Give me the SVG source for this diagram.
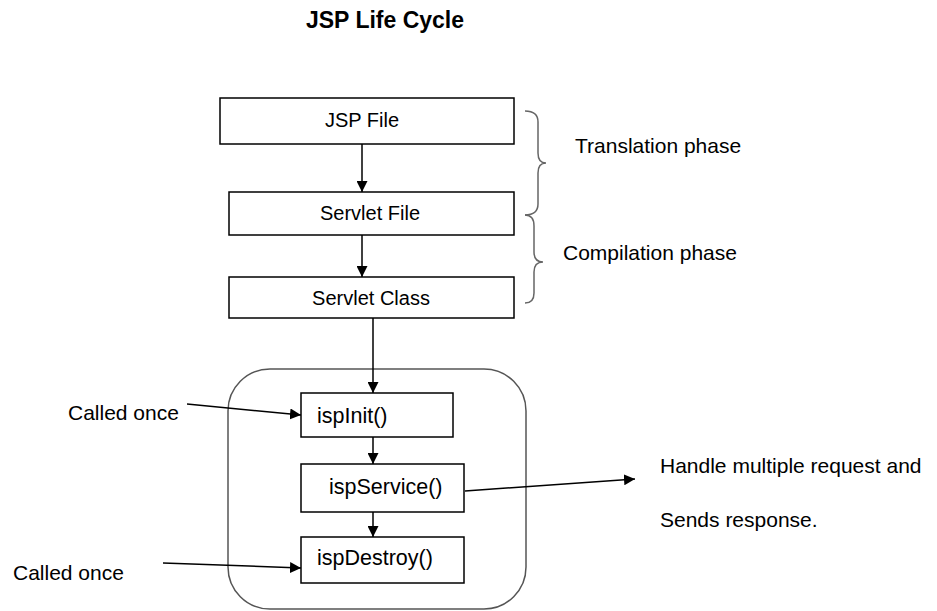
<svg xmlns="http://www.w3.org/2000/svg" width="937" height="611" viewBox="0 0 937 611">
  <defs>
    <marker id="arr" markerWidth="11" markerHeight="11" refX="11" refY="5.5" orient="auto" markerUnits="userSpaceOnUse">
      <path d="M0,0 L11,5.5 L0,11 Z" fill="#000"/>
    </marker>
    <style>
      .box { fill: #fff; stroke: #000; stroke-width: 1.5; }
      .lbl { font-family: "Liberation Sans", Arial, sans-serif; font-size: 20px; fill: #000; }
      .m { font-family: "Liberation Sans", Arial, sans-serif; font-size: 21.5px; fill: #000; }
      .note { font-family: "Liberation Sans", Arial, sans-serif; font-size: 21px; fill: #000; }
      .title { font-family: "Liberation Sans", Arial, sans-serif; font-size: 23px; font-weight: bold; fill: #000; }
      .conn { fill: none; stroke: #000; stroke-width: 1.5; marker-end: url(#arr); }
      .brace { fill: none; stroke: #666; stroke-width: 1.5; }
      .cont { fill: none; stroke: #555; stroke-width: 1.5; }
    </style>
  </defs>
  <rect width="937" height="611" fill="#fff"/>
  <text class="title" x="385" y="28" text-anchor="middle">JSP Life Cycle</text>

  <g id="container"><rect class="cont" x="228" y="369" width="298" height="240" rx="42" ry="42"/></g>

  <g id="jsp-file"><rect class="box" x="220" y="98" width="294" height="46"/><text class="lbl" x="362" y="127" text-anchor="middle">JSP File</text></g>
  <g id="servlet-file"><rect class="box" x="229" y="192" width="285" height="43"/><text class="lbl" x="370" y="220" text-anchor="middle">Servlet File</text></g>
  <g id="servlet-class"><rect class="box" x="229" y="277" width="285" height="41"/><text class="lbl" x="371" y="305" text-anchor="middle">Servlet Class</text></g>
  <g id="jsp-init"><rect class="box" x="301" y="393" width="152" height="44"/><text class="m" x="317" y="423">ispInit()</text></g>
  <g id="jsp-service"><rect class="box" x="301" y="464" width="163" height="48"/><text class="m" x="329" y="494">ispService()</text></g>
  <g id="jsp-destroy"><rect class="box" x="301" y="537" width="163" height="46"/><text class="m" x="317" y="565">ispDestroy()</text></g>

  <g id="braces">
    <path class="brace" d="M525,111 Q538,111 538,122 L538,153 Q538,163 546,163 Q538,163 538,173 L538,204 Q538,215 525,215"/>
    <path class="brace" d="M525,215 Q534,215 534,226 L534,252 Q534,262 543,262 Q534,262 534,272 L534,293 Q534,303 525,303"/>
  </g>

  <g id="labels">
    <text class="note" x="575" y="153">Translation phase</text>
    <text class="note" x="563" y="260">Compilation phase</text>
    <text class="note" x="68" y="420">Called once</text>
    <text class="note" x="13" y="580">Called once</text>
    <text class="note" x="660" y="473">Handle multiple request and</text>
    <text class="note" x="660" y="527">Sends response.</text>
  </g>

  <g id="connectors">
    <line class="conn" x1="362" y1="144" x2="362" y2="192"/>
    <line class="conn" x1="362" y1="235" x2="362" y2="277"/>
    <line class="conn" x1="373" y1="318" x2="373" y2="393"/>
    <line class="conn" x1="373" y1="437" x2="373" y2="464"/>
    <line class="conn" x1="373" y1="512" x2="373" y2="537"/>
    <line class="conn" x1="187" y1="404" x2="301" y2="415"/>
    <line class="conn" x1="163" y1="563" x2="301" y2="568"/>
    <line class="conn" x1="465" y1="491" x2="635" y2="479"/>
  </g>
</svg>
